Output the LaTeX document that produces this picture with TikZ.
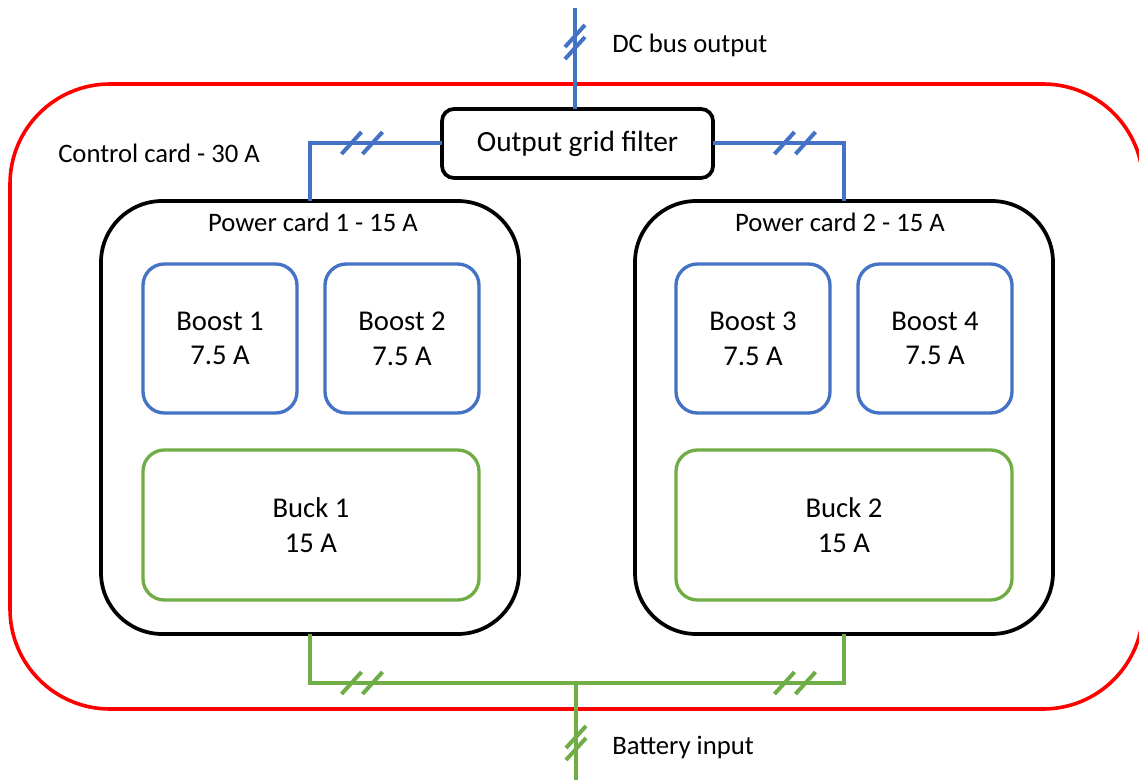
\documentclass[tikz,border=0pt]{standalone}
\usepackage{fontspec}
\setmainfont{Carlito}
\newcommand\wirepairH[3]{\draw[#1] (#2-20.5,#3+11) -- ++(20,-22) (#2+0.5,#3+11) -- ++(20,-22);}
\newcommand\wirepairV[3]{\draw[#1] (#2-10,#3+5) -- ++(20,-22) (#2-10,#3+17) -- ++(20,-22);}
\begin{document}
\begin{tikzpicture}[x=0.75pt,y=-0.75pt,
  box/.style={rectangle,inner sep=0pt,outer sep=0pt,align=center},
  ctrl/.style={draw={rgb,255:red,255;green,0;blue,0},line width=2.7pt,rounded corners=75pt},
  filt/.style={box,draw=black,line width=2.8pt,rounded corners=9pt,minimum width=203.25pt,minimum height=51.75pt,font=\fontsize{22}{26}\selectfont},
  pcard/.style={box,draw=black,line width=2.8pt,rounded corners=46pt,minimum width=313.5pt,minimum height=324.75pt},
  boost/.style={box,draw=boostblue,line width=2.5pt,rounded corners=16pt,minimum width=115.5pt,minimum height=111.75pt,font=\fontsize{21.5}{26}\selectfont},
  buck/.style={box,draw=buckgreen,line width=2.5pt,rounded corners=16pt,minimum width=252pt,minimum height=112.5pt,font=\fontsize{21.5}{26}\selectfont},
  lbl/.style={inner sep=0pt,font=\fontsize{20}{24}\selectfont},
  bluewire/.style={draw=boostblue,line width=3pt},
  greenwire/.style={draw=buckgreen,line width=3pt},
]
\definecolor{boostblue}{HTML}{4472C4}
\definecolor{buckgreen}{HTML}{70AD47}
\useasboundingbox (0,0) rectangle (1139,780);
\clip (0,0) rectangle (1139,780);
% control card
\draw[ctrl] (10,84) rectangle (1143,709);
\node[lbl,anchor=west] (cclbl) at (58,153) {Control card - 30 A};
% filter
\node[filt] (filter) at (577.5,143.5) {Output grid filter};
% power cards
\node[pcard] (pc1) at (310,417.5) {};
\node[pcard] (pc2) at (844,417.5) {};
\node[lbl] (pc1lbl) at (313,222) {Power card 1 - 15 A};
\node[lbl] (pc2lbl) at (840,222) {Power card 2 - 15 A};
% boosts
\node[boost] (b1) at (220,338.5) {Boost 1\\7.5 A};
\node[boost] (b2) at (402,338.5) {Boost 2\\7.5 A};
\node[boost] (b3) at (753,338.5) {Boost 3\\7.5 A};
\node[boost] (b4) at (935,338.5) {Boost 4\\7.5 A};
% bucks
\node[buck] (k1) at (311,525) {Buck 1\\15 A};
\node[buck] (k2) at (844,525) {Buck 2\\15 A};
% DC bus
\coordinate (dctop) at (575,8);
\draw[bluewire] (dctop) -- (dctop |- filter.north);
\wirepairV{bluewire}{575}{42}
\node[lbl,anchor=west] (dclbl) at (612,45) {DC bus output};
\draw[bluewire] (filter.west) -| (pc1.north);
\draw[bluewire] (filter.east) -| (pc2.north);
\wirepairH{bluewire}{362}{143}
\wirepairH{bluewire}{795}{143}
% battery
\coordinate (bj) at (576,683);
\coordinate (bbot) at (576,780);
\draw[greenwire] (pc1.south) -- (pc1.south |- bj) -- (pc2.south |- bj) -- (pc2.south);
\draw[greenwire] (bj) -- (bbot);
\wirepairH{greenwire}{362}{683}
\wirepairH{greenwire}{795}{683}
\wirepairV{greenwire}{576}{743}
\node[lbl,anchor=west] (batlbl) at (612,747) {Battery input};
\end{tikzpicture}
\end{document}
